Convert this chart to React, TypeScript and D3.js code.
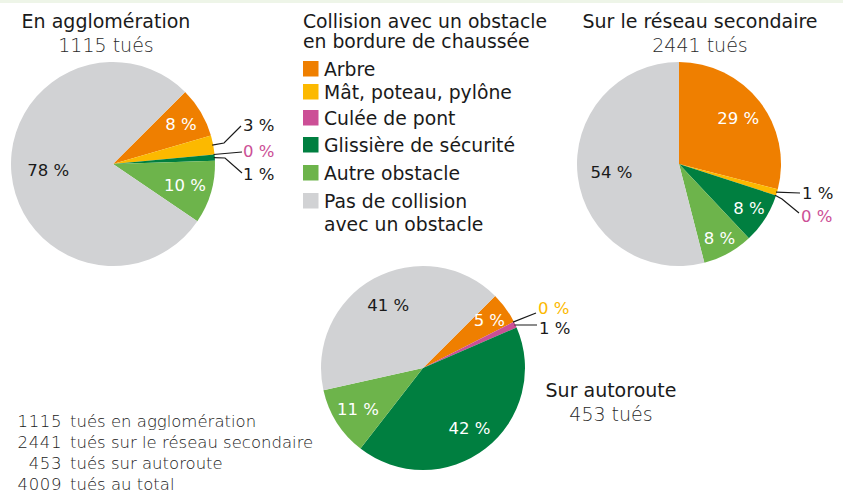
import React from 'react';
import * as d3 from 'd3';

// ---------- data ----------
const categories = [
  'Arbre',
  'Mât, poteau, pylône',
  'Culée de pont',
  'Glissière de sécurité',
  'Autre obstacle',
  'Pas de collision avec un obstacle',
];
const aggloValues = [8, 3, 0, 1, 10, 78];
const secondaireValues = [29, 1, 0, 8, 8, 54];
const autorouteValues = [5, 0, 1, 42, 11, 41];
const zoneNames = ['En agglomération', 'Sur le réseau secondaire', 'Sur autoroute'];
const zoneKilled = [1115, 2441, 453];
const totalKilled = 4009;
const summaryLabels = ['tués en agglomération', 'tués sur le réseau secondaire', 'tués sur autoroute', 'tués au total'];
const legendTitle = ['Collision avec un obstacle', 'en bordure de chaussée'];

// ---------- styles / layout ----------
const colors = ['#ef7f00', '#fcb900', '#cc4f96', '#007f40', '#6db44b', '#d1d2d4'];
const FONT = '"DejaVu Sans", sans-serif';
const INK = '#1a1a1a';
const R = 102;

type Callout = { i: number; pts: [number, number][]; label: [number, number] };
type Inside = { k: number; r: number };
type PieLayout = {
  values: number[];
  cx: number;
  cy: number;
  start: number; // degrees
  titleX: number;
  titleY: number;
  inside: Inside[];
  callouts: Callout[];
};

const pies: PieLayout[] = [
  {
    values: aggloValues,
    cx: 113,
    cy: 164,
    start: 45,
    titleX: 106,
    titleY: 28,
    inside: [
      { k: 0, r: 79 },
      { k: 4, r: 75 },
      { k: 5, r: 65 },
    ],
    callouts: [
      { i: 1, pts: [[111, -21], [128, -38]], label: [130, -39] },
      { i: 2, pts: [[129, -12]], label: [130, -13] },
      { i: 3, pts: [[112, -6], [129, 9]], label: [130, 10] },
    ],
  },
  {
    values: secondaireValues,
    cx: 679,
    cy: 164,
    start: 0,
    titleX: 700,
    titleY: 28,
    inside: [
      { k: 0, r: 75 },
      { k: 3, r: 83 },
      { k: 4, r: 84 },
      { k: 5, r: 68 },
    ],
    callouts: [
      { i: 1, pts: [[121, 29]], label: [123, 29] },
      { i: 2, pts: [[103, 35], [120, 49]], label: [122, 52] },
    ],
  },
  {
    values: autorouteValues,
    cx: 423,
    cy: 368,
    start: 45,
    titleX: 611,
    titleY: 397,
    inside: [
      { k: 0, r: 82 },
      { k: 3, r: 76 },
      { k: 4, r: 77 },
      { k: 5, r: 72 },
    ],
    callouts: [
      { i: 1, pts: [[113, -55]], label: [115, -60] },
      { i: 2, pts: [[114, -43]], label: [116, -40] },
    ],
  },
];

const legendTops = [61, 84, 110, 137, 165, 193];

function Pie({ p, zi }: { p: PieLayout; zi: number }) {
  const a0 = (p.start * Math.PI) / 180;
  const arcs = d3
    .pie<number>()
    .sort(null)
    .startAngle(a0)
    .endAngle(a0 + 2 * Math.PI)(p.values);
  const arc = d3.arc<d3.PieArcDatum<number>>().innerRadius(0).outerRadius(R);
  const edge = (a: d3.PieArcDatum<number>): [number, number] => {
    const m = (a.startAngle + a.endAngle) / 2;
    return [Math.sin(m) * (R - 1), -Math.cos(m) * (R - 1)];
  };
  const line = d3.line();
  return (
    <g>
      <text x={p.titleX} y={p.titleY} textAnchor="middle" fontFamily={FONT} fontSize={19} fill={INK}>
        {zoneNames[zi]}
      </text>
      <text x={p.titleX} y={p.titleY + 24} textAnchor="middle" fontFamily={FONT} fontWeight={200} fontSize={19} fill="#2a2a2a">
        {`${zoneKilled[zi]} tués`}
      </text>
      <g transform={`translate(${p.cx},${p.cy})`}>
        {arcs.map((a, k) => (
          <path key={k} d={arc(a) || ''} fill={colors[k]} />
        ))}
        {p.inside.map(({ k, r }) => {
          const [x, y] = d3.arc<d3.PieArcDatum<number>>().innerRadius(r).outerRadius(r).centroid(arcs[k]);
          return (
            <text
              key={'i' + k}
              x={x}
              y={y}
              dy="0.36em"
              textAnchor="middle"
              fontFamily={FONT}
              fontSize={16.5}
              fill={k === 5 ? INK : '#fff'}
            >
              {`${p.values[k]} %`}
            </text>
          );
        })}
        {p.callouts.map((c) => {
          const a = arcs[c.i];
          const pts: [number, number][] = [edge(a), ...c.pts];
          const v = p.values[c.i];
          return (
            <g key={'c' + c.i}>
              <path d={line(pts) || ''} fill="none" stroke={INK} strokeWidth={1.2} />
              <text
                x={c.label[0]}
                y={c.label[1]}
                dy="0.36em"
                fontFamily={FONT}
                fontSize={16.5}
                fill={v === 0 ? colors[c.i] : INK}
              >
                {`${v} %`}
              </text>
            </g>
          );
        })}
      </g>
    </g>
  );
}

export default function App() {
  const legendLines = (k: number) =>
    k === 5 ? ['Pas de collision', 'avec un obstacle'] : [categories[k]];
  const summaryNums = [...zoneKilled, totalKilled];
  return (
    <svg width={843} height={496} style={{ position: 'absolute', left: 0, top: 0, background: '#fff' }}>
      <rect x={0} y={0} width={843} height={3} fill="#eef5e8" />
      {pies.map((p, zi) => (
        <Pie key={zi} p={p} zi={zi} />
      ))}
      {/* legend */}
      {legendTitle.map((t, k) => (
        <text key={t} x={303} y={28 + k * 20} fontFamily={FONT} fontSize={18.8} fill={INK}>
          {t}
        </text>
      ))}
      {categories.map((c, k) => (
        <g key={c}>
          <rect x={303} y={legendTops[k]} width={15.5} height={15.5} fill={colors[k]} />
          {legendLines(k).map((l, j) => (
            <text key={j} x={324} y={legendTops[k] + 15 + j * 23} fontFamily={FONT} fontSize={18.8} fill={INK}>
              {l}
            </text>
          ))}
        </g>
      ))}
      {/* summary */}
      {summaryNums.map((n, k) => (
        <g key={k}>
          <text x={62} y={427 + k * 21} textAnchor="end" fontFamily={FONT} fontWeight={200} fontSize={16.5} letterSpacing={0.6} fill={INK}>
            {n}
          </text>
          <text x={70} y={427 + k * 21} fontFamily={FONT} fontWeight={200} fontSize={16.5} fill={INK}>
            {summaryLabels[k]}
          </text>
        </g>
      ))}
    </svg>
  );
}
